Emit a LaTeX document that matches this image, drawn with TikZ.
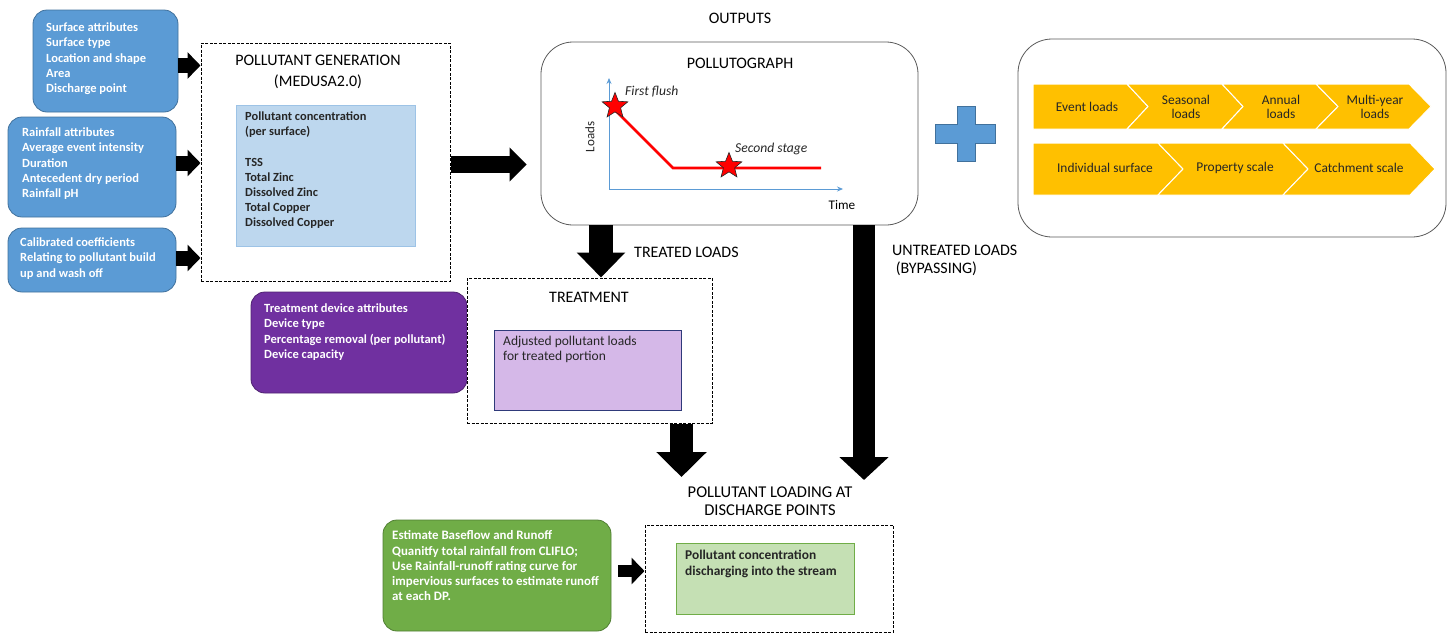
\documentclass[tikz,border=0pt]{standalone}
\usepackage{fontspec}
\setmainfont{Carlito}
\usetikzlibrary{arrows.meta,shapes.geometric}
\definecolor{cblue}{HTML}{5B9BD5}
\definecolor{cblueb}{HTML}{41719C}
\definecolor{clblue}{HTML}{BDD7EE}
\definecolor{clblueb}{HTML}{9DC3E6}
\definecolor{cpurple}{HTML}{7030A0}
\definecolor{cpurpleb}{HTML}{4E2270}
\definecolor{clav}{HTML}{D5B8E8}
\definecolor{cnavy}{HTML}{2F3A7A}
\definecolor{cgreen}{HTML}{70AD47}
\definecolor{cgreenb}{HTML}{507E32}
\definecolor{clgreen}{HTML}{C5E0B4}
\definecolor{cgold}{HTML}{FFC000}
\definecolor{cdark}{HTML}{262626}
\definecolor{cgray}{HTML}{595959}
\begin{document}
\begin{tikzpicture}[x=1pt,y=-1pt,
  sidebox/.style={draw=#1b, fill=#1, rounded corners=14, line width=0.8, inner sep=0},
  whitetxt/.style={anchor=north west, inner sep=0, align=left, text=white, font=\bfseries\fontsize{12.5}{15.3}\selectfont},
  darktxt/.style={anchor=north west, inner sep=0, align=left, text=cdark, font=\bfseries\fontsize{12.4}{15.2}\selectfont},
  dashbox/.style={draw=black, dash pattern=on 3pt off 1.5pt, line width=1, inner sep=0},
  flatbox/.style={draw=#1, line width=0.8, inner sep=0},
  title/.style={inner sep=0, align=center, text=black, font=\fontsize{16}{21}\selectfont},
  blk/.style args={#1/#2/#3}{draw=black, line width=#1, -{Triangle[length=#3 0 0, width=#2 0 0]}},
  chev/.style={fill=cgold, draw=white, line width=1},
  chevtxt/.style={inner sep=0, align=center, text=cdark, font=\fontsize{13.4}{14}\selectfont},
  star5/.style={star, star points=5, star point ratio=2.3, fill=red, draw=cdark, line width=0.6, minimum size=27, inner sep=0}
]
\useasboundingbox (0,0) rectangle (1453,635);

% ---------- input boxes ----------
\node[sidebox=cblue, minimum width=145, minimum height=102] (surf) at (105.5,61) {};
\node[whitetxt] (surft) at (46,22.5) {Surface attributes\\Surface type\\Location and shape\\Area\\Discharge point};
\node[sidebox=cblue, minimum width=168, minimum height=100] (rain) at (92,167) {};
\node[whitetxt] (raint) at (22,127.5) {Rainfall attributes\\Average event intensity\\Duration\\Antecedent dry period\\Rainfall pH};
\node[sidebox=cblue, minimum width=168, minimum height=64] (calib) at (92,260) {};
\node[whitetxt] (calibt) at (20,237.5) {Calibrated coefficients\\Relating to pollutant build\\up and wash off};

% ---------- pollutant generation ----------
\node[dashbox, minimum width=249, minimum height=238] (gen) at (325.5,162) {};
\node[title] (gent) at (318,71.5) {POLLUTANT GENERATION\\(MEDUSA2.0)};
\node[flatbox=clblueb, fill=clblue, minimum width=179, minimum height=141] (conc) at (325.5,175.5) {};
\node[darktxt] (conct) at (245,111.5) {Pollutant concentration\\(per surface)\\[15.2pt]TSS\\Total Zinc\\Dissolved Zinc\\Total Copper\\Dissolved Copper};

\draw[blk=15/26/13] (surf.east |- 0,65.5) -- (gen.west |- 0,65.5);
\draw[blk=15/26/13] (rain.east |- 0,163) -- (gen.west |- 0,163);
\draw[blk=15/26/13] (calib.east |- 0,258) -- (gen.west |- 0,258);

% ---------- outputs ----------
\node[title] (outt) at (740,18) {OUTPUTS};
\node[draw=cgray, line width=0.8, rounded corners=32, minimum width=377, minimum height=183, inner sep=0] (pollu) at (729.5,133.5) {};
\node[title] (pollut) at (740,63) {POLLUTOGRAPH};
\coordinate (orig) at (609,189);
\coordinate (ytop) at (609,78);
\coordinate (xend) at (843,189);
\draw[cblue, line width=0.8, -{Stealth[length=6, width=5]}] (orig) -- (ytop);
\draw[cblue, line width=0.8, -{Stealth[length=6, width=5]}] (orig) -- (xend);
\coordinate (p1) at (613,108);
\coordinate (p2) at (673,168);
\coordinate (p3) at (821,168);
\draw[red, line width=2.8] (p1) -- (p2) -- (p3);
\node[star5] (s1) at (615,106) {};
\node[star5] (s2) at (729,166) {};
\node[anchor=west, inner sep=0, font=\itshape\fontsize{13.6}{14}\selectfont, text=cdark] (ff) at (625,92) {First flush};
\node[anchor=west, inner sep=0, font=\itshape\fontsize{13.6}{14}\selectfont, text=cdark] (ss) at (735,149) {Second stage};
\node[rotate=90, inner sep=0, font=\fontsize{13}{14}\selectfont, text=cdark] (loads) at (590,137) {Loads};
\node[inner sep=0, font=\fontsize{13.2}{14}\selectfont, text=black] (time) at (842,205) {Time};

\draw[blk=17/33/17, shorten >=14] (gen.east |- 0,164.5) -- (pollu.west |- 0,164.5);

% ---------- plus ----------
\draw[fill=cblue, draw=cblueb, line width=0.8] (957,106) -- (975,106) -- (975,124) -- (995,124) -- (995,143) -- (975,143) -- (975,161) -- (957,161) -- (957,143) -- (935,143) -- (935,124) -- (957,124) -- cycle;

% ---------- right box with chevrons ----------
\node[draw=cgray, line width=0.8, rounded corners=34, minimum width=428, minimum height=198, inner sep=0] (scales) at (1232,138) {};
% row 1
\draw[chev] (1033,84) -- (1127,84) -- (1148,106.5) -- (1127,129) -- (1033,129) -- cycle;
\draw[chev] (1127,84) -- (1222,84) -- (1243,106.5) -- (1222,129) -- (1127,129) -- (1148,106.5) -- cycle;
\draw[chev] (1222,84) -- (1316,84) -- (1338,106.5) -- (1316,129) -- (1222,129) -- (1243,106.5) -- cycle;
\draw[chev] (1316,84) -- (1409,84) -- (1431,106.5) -- (1409,129) -- (1316,129) -- (1338,106.5) -- cycle;
\node[chevtxt] (ev) at (1087,106.5) {Event loads};
\node[chevtxt] (se) at (1186,106.5) {Seasonal\\loads};
\node[chevtxt] (an) at (1281,106.5) {Annual\\loads};
\node[chevtxt] (my) at (1375,106.5) {Multi-year\\loads};
% row 2
\draw[chev] (1033,143) -- (1158,143) -- (1183,169) -- (1158,195) -- (1033,195) -- cycle;
\draw[chev] (1158,143) -- (1283,143) -- (1308,169) -- (1283,195) -- (1158,195) -- (1183,169) -- cycle;
\draw[chev] (1283,143) -- (1410,143) -- (1435,169) -- (1410,195) -- (1283,195) -- (1308,169) -- cycle;
\node[chevtxt] (is) at (1105,168) {Individual surface};
\node[chevtxt] (ps) at (1235,168) {Property scale};
\node[chevtxt] (cs) at (1359,168) {Catchment scale};

% ---------- treatment ----------
\node[sidebox=cpurple, minimum width=216, minimum height=101] (dev) at (359,342.5) {};
\node[whitetxt] (devt) at (264,303.5) {Treatment device attributes\\Device type\\Percentage removal (per pollutant)\\Device capacity};
\node[dashbox, fill=white, minimum width=245, minimum height=145] (treat) at (589.5,350.5) {};
\node[title] (treatt) at (589,297) {TREATMENT};
\node[flatbox=cnavy, fill=clav, minimum width=187, minimum height=80] (adj) at (587.5,370) {};
\node[darktxt, font=\fontsize{13.5}{15.3}\selectfont] (adjt) at (503,336) {Adjusted pollutant loads\\for treated portion};

\draw[blk=24/47/25] (pollu.south -| 601,0) -- (treat.north -| 601,0);
\node[title, anchor=west] (tl) at (634,252) {TREATED LOADS};

\coordinate (untip) at (864,480);
\draw[blk=22/48/23] (pollu.south -| untip) -- (untip);
\node[title, anchor=north west, align=left, font=\fontsize{16}{18}\selectfont] (ul) at (892,245) {UNTREATED LOADS\\\ (BYPASSING)};

\coordinate (trtip) at (681.5,477);
\draw[blk=23/49/25] (treat.south -| trtip) -- (trtip);

% ---------- discharge ----------
\node[title, font=\fontsize{16.5}{18}\selectfont] (dpt) at (770,501) {POLLUTANT LOADING AT\\DISCHARGE POINTS};
\node[dashbox, minimum width=248, minimum height=107] (disch) at (769,578.5) {};
\node[flatbox=cgreen, fill=clgreen, minimum width=178, minimum height=71] (pcd) at (765,578.5) {};
\node[darktxt, font=\bfseries\fontsize{13.4}{16}\selectfont] (pcdt) at (685,550) {Pollutant concentration\\discharging into the stream};

\node[sidebox=cgreen, minimum width=228, minimum height=111] (est) at (497,575.5) {};
\node[whitetxt, font=\bfseries\fontsize{12.9}{15.3}\selectfont] (estt) at (392,530.5) {Estimate Baseflow and Runoff\\Quanitfy total rainfall from CLIFLO;\\Use Rainfall-runoff rating curve for\\impervious surfaces to estimate runoff\\at each DP.};
\draw[blk=12/26/13, shorten <=7] (est.east |- 0,571) -- (disch.west |- 0,571);
\end{tikzpicture}
\end{document}
